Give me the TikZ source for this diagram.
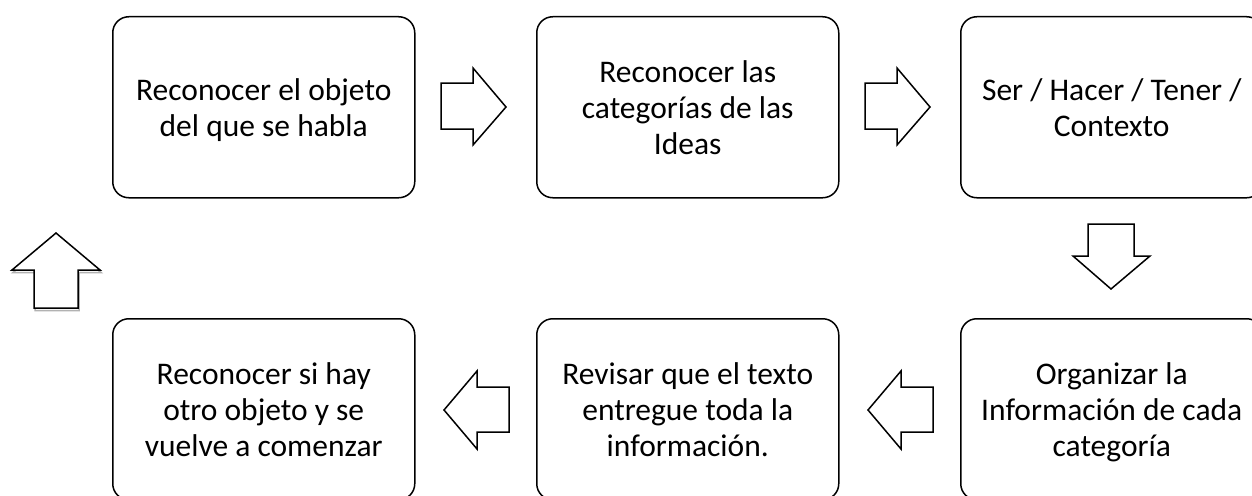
\documentclass[tikz,border=0pt]{standalone}
\usepackage{fontspec}
\setmainfont{Carlito}
\begin{document}
\begin{tikzpicture}[x=1pt,y=-1pt,
  stepbox/.style={draw=black,line width=1.5pt,rounded corners=16pt,minimum width=302pt,minimum height=181pt,align=center,inner sep=0pt,font=\fontsize{31.5}{36}\selectfont,anchor=north west,text depth=0pt},
  twolines/.style={text height=59pt},
  threelines/.style={text height=95pt},
  blockarrow/.style={draw=black,line width=1.5pt,fill=white,line join=miter}]
\useasboundingbox (0,0) rectangle (1252,495);
\clip (0,0) rectangle (1252,495);
\fill[white] (0,0) rectangle (1252,495);
% top row
\node[stepbox,twolines] (b1) at (112,16) {Reconocer el objeto\\del que se habla};
\node[stepbox,threelines] (b2) at (536,16) {Reconocer las\\categorías de las\\Ideas};
\node[stepbox,twolines] (b3) at (960,16) {Ser / Hacer / Tener /\\Contexto};
% bottom row
\node[stepbox,threelines] (b4) at (112,318) {Reconocer si hay\\otro objeto y se\\vuelve a comenzar};
\node[stepbox,threelines] (b5) at (536,318) {Revisar que el texto\\entregue toda la\\información.};
\node[stepbox,threelines] (b6) at (960,318) {Organizar la\\Información de cada\\categoría};
% right arrows
\draw[blockarrow] (441,83) -- (473,83) -- (473,68) -- (506,107) -- (473,145) -- (473,129) -- (441,129) -- cycle;
\draw[blockarrow] (865,83) -- (897,83) -- (897,68) -- (930,107) -- (897,145) -- (897,129) -- (865,129) -- cycle;
% down arrow
\draw[blockarrow] (1088,224) -- (1134,224) -- (1134,256) -- (1150,256) -- (1111,289) -- (1073,256) -- (1088,256) -- cycle;
% left arrows
\draw[blockarrow] (933,387) -- (901,387) -- (901,371) -- (868,410) -- (901,449) -- (901,432) -- (933,432) -- cycle;
\draw[blockarrow] (509,387) -- (477,387) -- (477,371) -- (444,410) -- (477,449) -- (477,432) -- (509,432) -- cycle;
% up arrow with shadow
\draw[line width=1.5pt,gray!60,shift={(1,2.5)}] (34,308) -- (34,270) -- (12,270) -- (56,233) -- (100,270) -- (78,270) -- (78,308) -- cycle;
\draw[blockarrow] (34,308) -- (34,270) -- (12,270) -- (56,233) -- (100,270) -- (78,270) -- (78,308) -- cycle;
\end{tikzpicture}
\end{document}
